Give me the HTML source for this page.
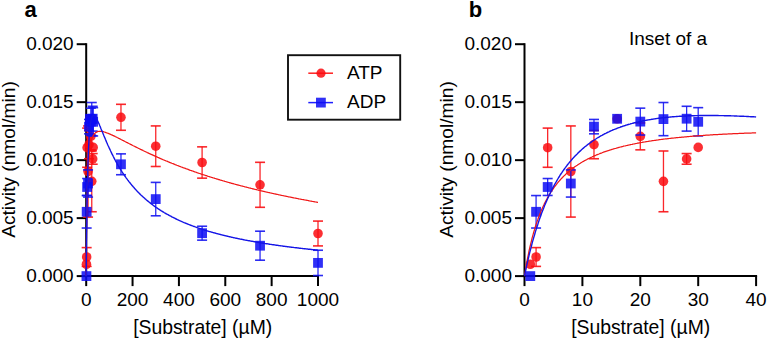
<!DOCTYPE html>
<html><head><meta charset="utf-8"><style>
html,body{margin:0;padding:0;background:#fff;}
svg{display:block;font-family:"Liberation Sans",sans-serif;}
</style></head><body>
<svg width="767" height="340" viewBox="0 0 767 340">
<rect width="767" height="340" fill="#fff"/>
<line x1="86.20" y1="43.20" x2="86.20" y2="277.10" stroke="#000" stroke-width="2"/>
<line x1="85.20" y1="276.10" x2="319.00" y2="276.10" stroke="#000" stroke-width="2"/>
<line x1="76.70" y1="276.10" x2="86.20" y2="276.10" stroke="#000" stroke-width="2"/>
<text x="73.70" y="282.10" font-size="19" text-anchor="end" font-weight="normal" >0.000</text>
<line x1="76.70" y1="218.12" x2="86.20" y2="218.12" stroke="#000" stroke-width="2"/>
<text x="73.70" y="224.12" font-size="19" text-anchor="end" font-weight="normal" >0.005</text>
<line x1="76.70" y1="160.15" x2="86.20" y2="160.15" stroke="#000" stroke-width="2"/>
<text x="73.70" y="166.15" font-size="19" text-anchor="end" font-weight="normal" >0.010</text>
<line x1="76.70" y1="102.17" x2="86.20" y2="102.17" stroke="#000" stroke-width="2"/>
<text x="73.70" y="108.17" font-size="19" text-anchor="end" font-weight="normal" >0.015</text>
<line x1="76.70" y1="44.20" x2="86.20" y2="44.20" stroke="#000" stroke-width="2"/>
<text x="73.70" y="50.20" font-size="19" text-anchor="end" font-weight="normal" >0.020</text>
<line x1="86.20" y1="276.10" x2="86.20" y2="286.10" stroke="#000" stroke-width="2"/>
<text x="86.20" y="306.00" font-size="19" text-anchor="middle" font-weight="normal" >0</text>
<line x1="132.56" y1="276.10" x2="132.56" y2="286.10" stroke="#000" stroke-width="2"/>
<text x="132.56" y="306.00" font-size="19" text-anchor="middle" font-weight="normal" >200</text>
<line x1="178.92" y1="276.10" x2="178.92" y2="286.10" stroke="#000" stroke-width="2"/>
<text x="178.92" y="306.00" font-size="19" text-anchor="middle" font-weight="normal" >400</text>
<line x1="225.28" y1="276.10" x2="225.28" y2="286.10" stroke="#000" stroke-width="2"/>
<text x="225.28" y="306.00" font-size="19" text-anchor="middle" font-weight="normal" >600</text>
<line x1="271.64" y1="276.10" x2="271.64" y2="286.10" stroke="#000" stroke-width="2"/>
<text x="271.64" y="306.00" font-size="19" text-anchor="middle" font-weight="normal" >800</text>
<line x1="318.00" y1="276.10" x2="318.00" y2="286.10" stroke="#000" stroke-width="2"/>
<text x="318.00" y="306.00" font-size="19" text-anchor="middle" font-weight="normal" >1000</text>
<line x1="86.66" y1="247.61" x2="86.66" y2="266.39" stroke="rgba(250,15,20,0.9)" stroke-width="1.3"/>
<line x1="81.66" y1="247.61" x2="91.66" y2="247.61" stroke="rgba(250,15,20,0.9)" stroke-width="1.6"/>
<line x1="81.66" y1="266.39" x2="91.66" y2="266.39" stroke="rgba(250,15,20,0.9)" stroke-width="1.6"/>
<line x1="87.13" y1="128.10" x2="87.13" y2="167.29" stroke="rgba(250,15,20,0.9)" stroke-width="1.3"/>
<line x1="82.13" y1="128.10" x2="92.13" y2="128.10" stroke="rgba(250,15,20,0.9)" stroke-width="1.6"/>
<line x1="82.13" y1="167.29" x2="92.13" y2="167.29" stroke="rgba(250,15,20,0.9)" stroke-width="1.6"/>
<line x1="88.05" y1="125.94" x2="88.05" y2="217.08" stroke="rgba(250,15,20,0.9)" stroke-width="1.3"/>
<line x1="83.05" y1="125.94" x2="93.05" y2="125.94" stroke="rgba(250,15,20,0.9)" stroke-width="1.6"/>
<line x1="83.05" y1="217.08" x2="93.05" y2="217.08" stroke="rgba(250,15,20,0.9)" stroke-width="1.6"/>
<line x1="88.98" y1="130.46" x2="88.98" y2="158.75" stroke="rgba(250,15,20,0.9)" stroke-width="1.3"/>
<line x1="83.98" y1="130.46" x2="93.98" y2="130.46" stroke="rgba(250,15,20,0.9)" stroke-width="1.6"/>
<line x1="83.98" y1="158.75" x2="93.98" y2="158.75" stroke="rgba(250,15,20,0.9)" stroke-width="1.6"/>
<line x1="90.84" y1="122.94" x2="90.84" y2="149.84" stroke="rgba(250,15,20,0.9)" stroke-width="1.3"/>
<line x1="85.84" y1="122.94" x2="95.84" y2="122.94" stroke="rgba(250,15,20,0.9)" stroke-width="1.6"/>
<line x1="85.84" y1="149.84" x2="95.84" y2="149.84" stroke="rgba(250,15,20,0.9)" stroke-width="1.6"/>
<line x1="91.76" y1="150.99" x2="91.76" y2="211.75" stroke="rgba(250,15,20,0.9)" stroke-width="1.3"/>
<line x1="86.76" y1="150.99" x2="96.76" y2="150.99" stroke="rgba(250,15,20,0.9)" stroke-width="1.6"/>
<line x1="86.76" y1="211.75" x2="96.76" y2="211.75" stroke="rgba(250,15,20,0.9)" stroke-width="1.6"/>
<line x1="92.69" y1="153.56" x2="92.69" y2="164.23" stroke="rgba(250,15,20,0.9)" stroke-width="1.3"/>
<line x1="87.69" y1="153.56" x2="97.69" y2="153.56" stroke="rgba(250,15,20,0.9)" stroke-width="1.6"/>
<line x1="87.69" y1="164.23" x2="97.69" y2="164.23" stroke="rgba(250,15,20,0.9)" stroke-width="1.6"/>
<line x1="120.97" y1="104.31" x2="120.97" y2="130.28" stroke="rgba(250,15,20,0.9)" stroke-width="1.3"/>
<line x1="115.97" y1="104.31" x2="125.97" y2="104.31" stroke="rgba(250,15,20,0.9)" stroke-width="1.6"/>
<line x1="115.97" y1="130.28" x2="125.97" y2="130.28" stroke="rgba(250,15,20,0.9)" stroke-width="1.6"/>
<line x1="155.74" y1="125.91" x2="155.74" y2="166.49" stroke="rgba(250,15,20,0.9)" stroke-width="1.3"/>
<line x1="150.74" y1="125.91" x2="160.74" y2="125.91" stroke="rgba(250,15,20,0.9)" stroke-width="1.6"/>
<line x1="150.74" y1="166.49" x2="160.74" y2="166.49" stroke="rgba(250,15,20,0.9)" stroke-width="1.6"/>
<line x1="202.10" y1="146.85" x2="202.10" y2="178.16" stroke="rgba(250,15,20,0.9)" stroke-width="1.3"/>
<line x1="197.10" y1="146.85" x2="207.10" y2="146.85" stroke="rgba(250,15,20,0.9)" stroke-width="1.6"/>
<line x1="197.10" y1="178.16" x2="207.10" y2="178.16" stroke="rgba(250,15,20,0.9)" stroke-width="1.6"/>
<line x1="260.05" y1="162.31" x2="260.05" y2="207.30" stroke="rgba(250,15,20,0.9)" stroke-width="1.3"/>
<line x1="255.05" y1="162.31" x2="265.05" y2="162.31" stroke="rgba(250,15,20,0.9)" stroke-width="1.6"/>
<line x1="255.05" y1="207.30" x2="265.05" y2="207.30" stroke="rgba(250,15,20,0.9)" stroke-width="1.6"/>
<line x1="318.00" y1="221.09" x2="318.00" y2="245.91" stroke="rgba(250,15,20,0.9)" stroke-width="1.3"/>
<line x1="313.00" y1="221.09" x2="323.00" y2="221.09" stroke="rgba(250,15,20,0.9)" stroke-width="1.6"/>
<line x1="313.00" y1="245.91" x2="323.00" y2="245.91" stroke="rgba(250,15,20,0.9)" stroke-width="1.6"/>
<circle cx="86.43" cy="264.25" r="4.8" fill="rgba(250,10,15,0.85)"/>
<circle cx="86.66" cy="257.00" r="4.8" fill="rgba(250,10,15,0.85)"/>
<circle cx="87.13" cy="147.70" r="4.8" fill="rgba(250,10,15,0.85)"/>
<circle cx="88.05" cy="171.51" r="4.8" fill="rgba(250,10,15,0.85)"/>
<circle cx="88.98" cy="144.60" r="4.8" fill="rgba(250,10,15,0.85)"/>
<circle cx="89.91" cy="118.79" r="4.8" fill="rgba(250,10,15,0.85)"/>
<circle cx="90.84" cy="136.39" r="4.8" fill="rgba(250,10,15,0.85)"/>
<circle cx="91.76" cy="181.37" r="4.8" fill="rgba(250,10,15,0.85)"/>
<circle cx="92.69" cy="158.90" r="4.8" fill="rgba(250,10,15,0.85)"/>
<circle cx="93.15" cy="147.40" r="4.8" fill="rgba(250,10,15,0.85)"/>
<circle cx="120.97" cy="117.29" r="4.8" fill="rgba(250,10,15,0.85)"/>
<circle cx="155.74" cy="146.20" r="4.8" fill="rgba(250,10,15,0.85)"/>
<circle cx="202.10" cy="162.50" r="4.8" fill="rgba(250,10,15,0.85)"/>
<circle cx="260.05" cy="184.80" r="4.8" fill="rgba(250,10,15,0.85)"/>
<circle cx="318.00" cy="233.50" r="4.8" fill="rgba(250,10,15,0.85)"/>
<line x1="86.66" y1="195.56" x2="86.66" y2="228.03" stroke="rgba(15,15,240,0.88)" stroke-width="1.3"/>
<line x1="81.66" y1="195.56" x2="91.66" y2="195.56" stroke="rgba(15,15,240,0.88)" stroke-width="1.6"/>
<line x1="81.66" y1="228.03" x2="91.66" y2="228.03" stroke="rgba(15,15,240,0.88)" stroke-width="1.6"/>
<line x1="87.13" y1="178.53" x2="87.13" y2="195.46" stroke="rgba(15,15,240,0.88)" stroke-width="1.3"/>
<line x1="82.13" y1="178.53" x2="92.13" y2="178.53" stroke="rgba(15,15,240,0.88)" stroke-width="1.6"/>
<line x1="82.13" y1="195.46" x2="92.13" y2="195.46" stroke="rgba(15,15,240,0.88)" stroke-width="1.6"/>
<line x1="88.05" y1="169.94" x2="88.05" y2="197.07" stroke="rgba(15,15,240,0.88)" stroke-width="1.3"/>
<line x1="83.05" y1="169.94" x2="93.05" y2="169.94" stroke="rgba(15,15,240,0.88)" stroke-width="1.6"/>
<line x1="83.05" y1="197.07" x2="93.05" y2="197.07" stroke="rgba(15,15,240,0.88)" stroke-width="1.6"/>
<line x1="88.98" y1="119.45" x2="88.98" y2="133.83" stroke="rgba(15,15,240,0.88)" stroke-width="1.3"/>
<line x1="83.98" y1="119.45" x2="93.98" y2="119.45" stroke="rgba(15,15,240,0.88)" stroke-width="1.6"/>
<line x1="83.98" y1="133.83" x2="93.98" y2="133.83" stroke="rgba(15,15,240,0.88)" stroke-width="1.6"/>
<line x1="90.84" y1="108.15" x2="90.84" y2="135.05" stroke="rgba(15,15,240,0.88)" stroke-width="1.3"/>
<line x1="85.84" y1="108.15" x2="95.84" y2="108.15" stroke="rgba(15,15,240,0.88)" stroke-width="1.6"/>
<line x1="85.84" y1="135.05" x2="95.84" y2="135.05" stroke="rgba(15,15,240,0.88)" stroke-width="1.6"/>
<line x1="91.76" y1="102.52" x2="91.76" y2="135.68" stroke="rgba(15,15,240,0.88)" stroke-width="1.3"/>
<line x1="86.76" y1="102.52" x2="96.76" y2="102.52" stroke="rgba(15,15,240,0.88)" stroke-width="1.6"/>
<line x1="86.76" y1="135.68" x2="96.76" y2="135.68" stroke="rgba(15,15,240,0.88)" stroke-width="1.6"/>
<line x1="92.69" y1="106.29" x2="92.69" y2="131.10" stroke="rgba(15,15,240,0.88)" stroke-width="1.3"/>
<line x1="87.69" y1="106.29" x2="97.69" y2="106.29" stroke="rgba(15,15,240,0.88)" stroke-width="1.6"/>
<line x1="87.69" y1="131.10" x2="97.69" y2="131.10" stroke="rgba(15,15,240,0.88)" stroke-width="1.6"/>
<line x1="93.15" y1="107.65" x2="93.15" y2="135.94" stroke="rgba(15,15,240,0.88)" stroke-width="1.3"/>
<line x1="88.15" y1="107.65" x2="98.15" y2="107.65" stroke="rgba(15,15,240,0.88)" stroke-width="1.6"/>
<line x1="88.15" y1="135.94" x2="98.15" y2="135.94" stroke="rgba(15,15,240,0.88)" stroke-width="1.6"/>
<line x1="120.97" y1="153.87" x2="120.97" y2="174.74" stroke="rgba(15,15,240,0.88)" stroke-width="1.3"/>
<line x1="115.97" y1="153.87" x2="125.97" y2="153.87" stroke="rgba(15,15,240,0.88)" stroke-width="1.6"/>
<line x1="115.97" y1="174.74" x2="125.97" y2="174.74" stroke="rgba(15,15,240,0.88)" stroke-width="1.6"/>
<line x1="155.74" y1="182.40" x2="155.74" y2="215.79" stroke="rgba(15,15,240,0.88)" stroke-width="1.3"/>
<line x1="150.74" y1="182.40" x2="160.74" y2="182.40" stroke="rgba(15,15,240,0.88)" stroke-width="1.6"/>
<line x1="150.74" y1="215.79" x2="160.74" y2="215.79" stroke="rgba(15,15,240,0.88)" stroke-width="1.6"/>
<line x1="202.10" y1="226.24" x2="202.10" y2="240.16" stroke="rgba(15,15,240,0.88)" stroke-width="1.3"/>
<line x1="197.10" y1="226.24" x2="207.10" y2="226.24" stroke="rgba(15,15,240,0.88)" stroke-width="1.6"/>
<line x1="197.10" y1="240.16" x2="207.10" y2="240.16" stroke="rgba(15,15,240,0.88)" stroke-width="1.6"/>
<line x1="260.05" y1="231.20" x2="260.05" y2="260.19" stroke="rgba(15,15,240,0.88)" stroke-width="1.3"/>
<line x1="255.05" y1="231.20" x2="265.05" y2="231.20" stroke="rgba(15,15,240,0.88)" stroke-width="1.6"/>
<line x1="255.05" y1="260.19" x2="265.05" y2="260.19" stroke="rgba(15,15,240,0.88)" stroke-width="1.6"/>
<line x1="318.00" y1="250.24" x2="318.00" y2="275.52" stroke="rgba(15,15,240,0.88)" stroke-width="1.3"/>
<line x1="313.00" y1="250.24" x2="323.00" y2="250.24" stroke="rgba(15,15,240,0.88)" stroke-width="1.6"/>
<line x1="313.00" y1="275.52" x2="323.00" y2="275.52" stroke="rgba(15,15,240,0.88)" stroke-width="1.6"/>
<rect x="81.53" y="271.20" width="9.8" height="9.8" fill="rgba(12,12,245,0.85)"/>
<rect x="81.76" y="206.89" width="9.8" height="9.8" fill="rgba(12,12,245,0.85)"/>
<rect x="82.23" y="182.09" width="9.8" height="9.8" fill="rgba(12,12,245,0.85)"/>
<rect x="83.15" y="178.60" width="9.8" height="9.8" fill="rgba(12,12,245,0.85)"/>
<rect x="84.08" y="121.74" width="9.8" height="9.8" fill="rgba(12,12,245,0.85)"/>
<rect x="85.01" y="113.89" width="9.8" height="9.8" fill="rgba(12,12,245,0.85)"/>
<rect x="85.94" y="116.70" width="9.8" height="9.8" fill="rgba(12,12,245,0.85)"/>
<rect x="86.86" y="114.20" width="9.8" height="9.8" fill="rgba(12,12,245,0.85)"/>
<rect x="87.79" y="113.80" width="9.8" height="9.8" fill="rgba(12,12,245,0.85)"/>
<rect x="88.25" y="116.89" width="9.8" height="9.8" fill="rgba(12,12,245,0.85)"/>
<rect x="116.07" y="159.40" width="9.8" height="9.8" fill="rgba(12,12,245,0.85)"/>
<rect x="150.84" y="194.20" width="9.8" height="9.8" fill="rgba(12,12,245,0.85)"/>
<rect x="197.20" y="228.30" width="9.8" height="9.8" fill="rgba(12,12,245,0.85)"/>
<rect x="255.15" y="240.80" width="9.8" height="9.8" fill="rgba(12,12,245,0.85)"/>
<rect x="313.10" y="257.98" width="9.8" height="9.8" fill="rgba(12,12,245,0.85)"/>
<polyline points="86.2,276.1 86.2,268.9 86.3,262.3 86.3,256.2 86.4,250.6 86.4,245.5 86.5,240.6 86.5,236.1 86.6,232.0 86.6,228.0 86.7,224.4 86.7,220.9 86.8,217.7 86.8,214.6 86.9,211.7 86.9,209.0 86.9,206.4 87.0,204.0 87.0,201.6 87.1,199.4 87.1,197.3 87.2,195.3 87.2,193.4 87.3,191.6 87.3,189.8 87.4,188.1 87.4,186.5 87.5,185.0 87.5,183.5 87.6,182.1 87.6,180.8 87.6,179.5 87.7,178.2 87.7,177.0 87.8,175.8 87.8,174.7 87.9,173.6 87.9,172.6 88.0,171.6 88.0,170.6 88.1,169.7 88.1,168.8 88.2,167.9 88.2,167.0 88.3,166.2 88.3,165.4 88.3,164.6 88.4,163.9 88.4,163.2 88.5,162.5 88.5,161.8 88.6,161.1 88.6,160.5 88.7,159.8 88.7,159.2 88.8,158.6 88.8,158.0 88.9,157.5 88.9,156.9 88.9,156.4 89.0,155.9 89.0,155.4 89.1,154.9 89.1,154.4 89.2,153.9 89.2,153.5 89.3,153.0 89.3,152.6 89.4,152.2 89.4,151.8 89.5,151.4 89.5,151.0 89.6,150.6 89.6,150.2 89.6,149.8 89.7,149.5 89.7,149.1 89.8,148.8 89.8,148.4 89.9,148.1 89.9,147.8 90.0,147.5 90.0,147.2 90.1,146.9 90.1,146.6 90.2,146.3 90.2,146.0 90.3,145.7 90.3,145.5 90.3,145.2 90.4,144.9 90.4,144.7 90.5,144.4 90.5,144.2 90.6,144.0 90.6,143.7 90.7,143.5 90.7,143.3 90.8,143.0 90.8,142.8 90.9,142.6 90.9,142.4 91.0,142.2 91.0,142.0 91.0,141.8 91.1,141.6 91.1,141.4 91.2,141.2 91.2,141.1 91.3,140.9 91.3,140.7 91.4,140.5 91.4,140.4 91.5,140.2 91.5,140.0 91.6,139.9 91.6,139.7 91.7,139.6 91.7,139.4 91.7,139.3 91.8,139.1 91.8,139.0 91.9,138.8 91.9,138.7 92.0,138.5 92.0,138.4 92.1,138.3 92.1,138.2 92.2,138.0 92.2,137.9 92.3,137.8 92.3,137.7 92.4,137.5 92.4,137.4 92.4,137.3 92.5,137.2 92.5,137.1 92.6,137.0 92.6,136.9 92.7,136.8 92.7,136.7 92.8,136.6 92.8,136.5 92.9,136.4 92.9,136.3 93.0,136.2 93.0,136.1 93.0,136.0 93.1,135.9 93.1,135.8 93.2,135.7 93.2,135.6 93.3,135.5 93.3,135.5 93.4,135.4 93.4,135.3 93.5,135.2 93.5,135.1 93.6,135.1 93.6,135.0 93.7,134.9 93.7,134.8 93.7,134.8 93.8,134.7 93.8,134.6 93.9,134.6 93.9,134.5 94.0,134.4 94.0,134.4 94.1,134.3 94.1,134.2 94.2,134.2 94.2,134.1 94.3,134.1 94.3,134.0 94.4,133.9 94.4,133.9 94.4,133.8 94.5,133.8 94.5,133.7 94.6,133.7 94.6,133.6 94.7,133.6 94.7,133.5 94.8,133.5 94.8,133.4 94.9,133.4 94.9,133.3 95.0,133.3 95.0,133.2 95.1,133.2 95.1,133.1 95.1,133.1 95.2,133.1 95.2,133.0 95.3,133.0 95.3,132.9 95.4,132.9 95.4,132.9 95.5,132.8 95.5,132.8 96.0,132.4 96.6,132.1 97.1,131.8 97.7,131.6 98.3,131.5 98.8,131.4 99.4,131.3 99.9,131.3 100.5,131.3 101.0,131.4 101.6,131.4 102.2,131.5 102.7,131.6 103.3,131.7 103.8,131.9 104.4,132.0 105.0,132.2 105.5,132.4 106.1,132.6 106.6,132.8 107.2,133.0 107.7,133.2 108.3,133.4 108.9,133.6 109.4,133.9 110.0,134.1 110.5,134.3 111.1,134.6 111.6,134.8 112.2,135.1 112.8,135.4 113.3,135.6 113.9,135.9 114.4,136.2 115.0,136.4 115.5,136.7 116.1,137.0 116.7,137.2 117.2,137.5 117.8,137.8 118.3,138.1 118.9,138.4 119.5,138.6 120.0,138.9 120.6,139.2 121.1,139.5 121.7,139.8 122.2,140.1 122.8,140.4 123.4,140.6 123.9,140.9 124.5,141.2 125.0,141.5 125.6,141.8 126.1,142.1 126.7,142.4 127.3,142.6 127.8,142.9 128.4,143.2 128.9,143.5 129.5,143.8 130.1,144.1 130.6,144.4 131.2,144.6 131.7,144.9 132.3,145.2 132.8,145.5 133.4,145.8 134.0,146.0 134.5,146.3 135.1,146.6 135.6,146.9 136.2,147.2 136.7,147.4 137.3,147.7 137.9,148.0 138.4,148.3 139.0,148.5 139.5,148.8 140.1,149.1 140.6,149.4 141.2,149.6 141.8,149.9 142.3,150.2 142.9,150.4 143.4,150.7 144.0,151.0 144.6,151.3 145.1,151.5 145.7,151.8 146.2,152.0 146.8,152.3 147.3,152.6 147.9,152.8 148.5,153.1 149.0,153.4 149.6,153.6 150.1,153.9 150.7,154.1 151.2,154.4 151.8,154.6 152.4,154.9 152.9,155.2 153.5,155.4 154.0,155.7 154.6,155.9 155.1,156.2 155.7,156.4 156.3,156.7 156.8,156.9 157.4,157.2 157.9,157.4 158.5,157.6 159.1,157.9 159.6,158.1 160.2,158.4 160.7,158.6 161.3,158.9 161.8,159.1 162.4,159.3 163.0,159.6 163.5,159.8 164.1,160.0 164.6,160.3 165.2,160.5 165.7,160.8 166.3,161.0 166.9,161.2 167.4,161.4 168.0,161.7 168.5,161.9 169.1,162.1 169.6,162.4 170.2,162.6 170.8,162.8 171.3,163.0 171.9,163.3 172.4,163.5 173.0,163.7 173.6,163.9 174.1,164.2 174.7,164.4 175.2,164.6 175.8,164.8 176.3,165.0 176.9,165.3 177.5,165.5 178.0,165.7 178.6,165.9 179.1,166.1 179.7,166.3 180.2,166.5 180.8,166.8 181.4,167.0 181.9,167.2 182.5,167.4 183.0,167.6 183.6,167.8 184.1,168.0 184.7,168.2 185.3,168.4 185.8,168.6 186.4,168.8 186.9,169.0 187.5,169.2 188.1,169.4 188.6,169.7 189.2,169.9 189.7,170.1 190.3,170.3 190.8,170.5 191.4,170.6 192.0,170.8 192.5,171.0 193.1,171.2 193.6,171.4 194.2,171.6 194.7,171.8 195.3,172.0 195.9,172.2 196.4,172.4 197.0,172.6 197.5,172.8 198.1,173.0 198.6,173.2 199.2,173.4 199.8,173.5 200.3,173.7 200.9,173.9 201.4,174.1 202.0,174.3 202.6,174.5 203.1,174.7 203.7,174.8 204.2,175.0 204.8,175.2 205.3,175.4 205.9,175.6 206.5,175.7 207.0,175.9 207.6,176.1 208.1,176.3 208.7,176.5 209.2,176.6 209.8,176.8 210.4,177.0 210.9,177.2 211.5,177.3 212.0,177.5 212.6,177.7 213.1,177.9 213.7,178.0 214.3,178.2 214.8,178.4 215.4,178.5 215.9,178.7 216.5,178.9 217.1,179.1 217.6,179.2 218.2,179.4 218.7,179.6 219.3,179.7 219.8,179.9 220.4,180.1 221.0,180.2 221.5,180.4 222.1,180.5 222.6,180.7 223.2,180.9 223.7,181.0 224.3,181.2 224.9,181.4 225.4,181.5 226.0,181.7 226.5,181.8 227.1,182.0 227.7,182.2 228.2,182.3 228.8,182.5 229.3,182.6 229.9,182.8 230.4,182.9 231.0,183.1 231.6,183.3 232.1,183.4 232.7,183.6 233.2,183.7 233.8,183.9 234.3,184.0 234.9,184.2 235.5,184.3 236.0,184.5 236.6,184.6 237.1,184.8 237.7,184.9 238.2,185.1 238.8,185.2 239.4,185.4 239.9,185.5 240.5,185.7 241.0,185.8 241.6,186.0 242.2,186.1 242.7,186.2 243.3,186.4 243.8,186.5 244.4,186.7 244.9,186.8 245.5,187.0 246.1,187.1 246.6,187.2 247.2,187.4 247.7,187.5 248.3,187.7 248.8,187.8 249.4,188.0 250.0,188.1 250.5,188.2 251.1,188.4 251.6,188.5 252.2,188.6 252.7,188.8 253.3,188.9 253.9,189.1 254.4,189.2 255.0,189.3 255.5,189.5 256.1,189.6 256.7,189.7 257.2,189.9 257.8,190.0 258.3,190.1 258.9,190.3 259.4,190.4 260.0,190.5 260.6,190.7 261.1,190.8 261.7,190.9 262.2,191.1 262.8,191.2 263.3,191.3 263.9,191.4 264.5,191.6 265.0,191.7 265.6,191.8 266.1,192.0 266.7,192.1 267.2,192.2 267.8,192.3 268.4,192.5 268.9,192.6 269.5,192.7 270.0,192.8 270.6,193.0 271.2,193.1 271.7,193.2 272.3,193.3 272.8,193.5 273.4,193.6 273.9,193.7 274.5,193.8 275.1,193.9 275.6,194.1 276.2,194.2 276.7,194.3 277.3,194.4 277.8,194.5 278.4,194.7 279.0,194.8 279.5,194.9 280.1,195.0 280.6,195.1 281.2,195.3 281.7,195.4 282.3,195.5 282.9,195.6 283.4,195.7 284.0,195.8 284.5,196.0 285.1,196.1 285.7,196.2 286.2,196.3 286.8,196.4 287.3,196.5 287.9,196.7 288.4,196.8 289.0,196.9 289.6,197.0 290.1,197.1 290.7,197.2 291.2,197.3 291.8,197.4 292.3,197.6 292.9,197.7 293.5,197.8 294.0,197.9 294.6,198.0 295.1,198.1 295.7,198.2 296.2,198.3 296.8,198.4 297.4,198.5 297.9,198.6 298.5,198.8 299.0,198.9 299.6,199.0 300.2,199.1 300.7,199.2 301.3,199.3 301.8,199.4 302.4,199.5 302.9,199.6 303.5,199.7 304.1,199.8 304.6,199.9 305.2,200.0 305.7,200.1 306.3,200.2 306.8,200.3 307.4,200.4 308.0,200.5 308.5,200.6 309.1,200.8 309.6,200.9 310.2,201.0 310.7,201.1 311.3,201.2 311.9,201.3 312.4,201.4 313.0,201.5 313.5,201.6 314.1,201.7 314.7,201.8 315.2,201.9 315.8,202.0 316.3,202.1 316.9,202.2 317.4,202.3 318.0,202.4" fill="none" stroke="#f01818" stroke-width="1.25" stroke-linejoin="round"/>
<polyline points="86.2,276.1 86.2,270.5 86.3,265.1 86.3,260.0 86.4,255.0 86.4,250.3 86.5,245.8 86.5,241.5 86.6,237.3 86.6,233.3 86.7,229.5 86.7,225.8 86.8,222.3 86.8,218.9 86.9,215.6 86.9,212.4 86.9,209.4 87.0,206.5 87.0,203.6 87.1,200.9 87.1,198.3 87.2,195.7 87.2,193.3 87.3,190.9 87.3,188.6 87.4,186.4 87.4,184.3 87.5,182.2 87.5,180.2 87.6,178.2 87.6,176.4 87.6,174.5 87.7,172.8 87.7,171.1 87.8,169.4 87.8,167.8 87.9,166.3 87.9,164.8 88.0,163.3 88.0,161.9 88.1,160.5 88.1,159.1 88.2,157.9 88.2,156.6 88.3,155.4 88.3,154.2 88.3,153.0 88.4,151.9 88.4,150.8 88.5,149.8 88.5,148.7 88.6,147.7 88.6,146.8 88.7,145.8 88.7,144.9 88.8,144.0 88.8,143.1 88.9,142.3 88.9,141.5 88.9,140.7 89.0,139.9 89.0,139.1 89.1,138.4 89.1,137.7 89.2,137.0 89.2,136.3 89.3,135.6 89.3,135.0 89.4,134.4 89.4,133.8 89.5,133.2 89.5,132.6 89.6,132.1 89.6,131.5 89.6,131.0 89.7,130.5 89.7,130.0 89.8,129.5 89.8,129.0 89.9,128.5 89.9,128.1 90.0,127.7 90.0,127.2 90.1,126.8 90.1,126.4 90.2,126.0 90.2,125.7 90.3,125.3 90.3,124.9 90.3,124.6 90.4,124.2 90.4,123.9 90.5,123.6 90.5,123.3 90.6,123.0 90.6,122.7 90.7,122.4 90.7,122.1 90.8,121.8 90.8,121.6 90.9,121.3 90.9,121.1 91.0,120.8 91.0,120.6 91.0,120.4 91.1,120.2 91.1,120.0 91.2,119.8 91.2,119.6 91.3,119.4 91.3,119.2 91.4,119.0 91.4,118.8 91.5,118.7 91.5,118.5 91.6,118.3 91.6,118.2 91.7,118.0 91.7,117.9 91.7,117.8 91.8,117.6 91.8,117.5 91.9,117.4 91.9,117.3 92.0,117.2 92.0,117.0 92.1,116.9 92.1,116.8 92.2,116.7 92.2,116.7 92.3,116.6 92.3,116.5 92.4,116.4 92.4,116.3 92.4,116.3 92.5,116.2 92.5,116.1 92.6,116.1 92.6,116.0 92.7,116.0 92.7,115.9 92.8,115.9 92.8,115.8 92.9,115.8 92.9,115.7 93.0,115.7 93.0,115.7 93.0,115.6 93.1,115.6 93.1,115.6 93.2,115.6 93.2,115.5 93.3,115.5 93.3,115.5 93.4,115.5 93.4,115.5 93.5,115.5 93.5,115.5 93.6,115.5 93.6,115.5 93.7,115.5 93.7,115.5 93.7,115.5 93.8,115.5 93.8,115.5 93.9,115.5 93.9,115.5 94.0,115.6 94.0,115.6 94.1,115.6 94.1,115.6 94.2,115.6 94.2,115.7 94.3,115.7 94.3,115.7 94.4,115.8 94.4,115.8 94.4,115.8 94.5,115.9 94.5,115.9 94.6,115.9 94.6,116.0 94.7,116.0 94.7,116.1 94.8,116.1 94.8,116.2 94.9,116.2 94.9,116.3 95.0,116.3 95.0,116.4 95.1,116.4 95.1,116.5 95.1,116.5 95.2,116.6 95.2,116.6 95.3,116.7 95.3,116.8 95.4,116.8 95.4,116.9 95.5,117.0 95.5,117.0 96.0,117.8 96.6,118.8 97.1,119.8 97.7,121.0 98.3,122.2 98.8,123.4 99.4,124.7 99.9,126.0 100.5,127.4 101.0,128.7 101.6,130.1 102.2,131.4 102.7,132.8 103.3,134.2 103.8,135.5 104.4,136.9 105.0,138.2 105.5,139.5 106.1,140.9 106.6,142.2 107.2,143.4 107.7,144.7 108.3,146.0 108.9,147.2 109.4,148.4 110.0,149.6 110.5,150.8 111.1,152.0 111.6,153.2 112.2,154.3 112.8,155.4 113.3,156.5 113.9,157.6 114.4,158.7 115.0,159.8 115.5,160.8 116.1,161.8 116.7,162.8 117.2,163.8 117.8,164.8 118.3,165.8 118.9,166.7 119.5,167.6 120.0,168.6 120.6,169.5 121.1,170.4 121.7,171.2 122.2,172.1 122.8,173.0 123.4,173.8 123.9,174.6 124.5,175.4 125.0,176.3 125.6,177.0 126.1,177.8 126.7,178.6 127.3,179.3 127.8,180.1 128.4,180.8 128.9,181.6 129.5,182.3 130.1,183.0 130.6,183.7 131.2,184.3 131.7,185.0 132.3,185.7 132.8,186.3 133.4,187.0 134.0,187.6 134.5,188.3 135.1,188.9 135.6,189.5 136.2,190.1 136.7,190.7 137.3,191.3 137.9,191.9 138.4,192.4 139.0,193.0 139.5,193.6 140.1,194.1 140.6,194.7 141.2,195.2 141.8,195.7 142.3,196.2 142.9,196.8 143.4,197.3 144.0,197.8 144.6,198.3 145.1,198.8 145.7,199.2 146.2,199.7 146.8,200.2 147.3,200.7 147.9,201.1 148.5,201.6 149.0,202.0 149.6,202.5 150.1,202.9 150.7,203.4 151.2,203.8 151.8,204.2 152.4,204.6 152.9,205.1 153.5,205.5 154.0,205.9 154.6,206.3 155.1,206.7 155.7,207.1 156.3,207.5 156.8,207.8 157.4,208.2 157.9,208.6 158.5,209.0 159.1,209.3 159.6,209.7 160.2,210.1 160.7,210.4 161.3,210.8 161.8,211.1 162.4,211.5 163.0,211.8 163.5,212.1 164.1,212.5 164.6,212.8 165.2,213.1 165.7,213.5 166.3,213.8 166.9,214.1 167.4,214.4 168.0,214.7 168.5,215.0 169.1,215.3 169.6,215.6 170.2,215.9 170.8,216.2 171.3,216.5 171.9,216.8 172.4,217.1 173.0,217.4 173.6,217.7 174.1,218.0 174.7,218.2 175.2,218.5 175.8,218.8 176.3,219.0 176.9,219.3 177.5,219.6 178.0,219.8 178.6,220.1 179.1,220.4 179.7,220.6 180.2,220.9 180.8,221.1 181.4,221.4 181.9,221.6 182.5,221.9 183.0,222.1 183.6,222.3 184.1,222.6 184.7,222.8 185.3,223.0 185.8,223.3 186.4,223.5 186.9,223.7 187.5,224.0 188.1,224.2 188.6,224.4 189.2,224.6 189.7,224.8 190.3,225.0 190.8,225.3 191.4,225.5 192.0,225.7 192.5,225.9 193.1,226.1 193.6,226.3 194.2,226.5 194.7,226.7 195.3,226.9 195.9,227.1 196.4,227.3 197.0,227.5 197.5,227.7 198.1,227.9 198.6,228.1 199.2,228.3 199.8,228.5 200.3,228.6 200.9,228.8 201.4,229.0 202.0,229.2 202.6,229.4 203.1,229.6 203.7,229.7 204.2,229.9 204.8,230.1 205.3,230.3 205.9,230.4 206.5,230.6 207.0,230.8 207.6,231.0 208.1,231.1 208.7,231.3 209.2,231.5 209.8,231.6 210.4,231.8 210.9,231.9 211.5,232.1 212.0,232.3 212.6,232.4 213.1,232.6 213.7,232.7 214.3,232.9 214.8,233.0 215.4,233.2 215.9,233.3 216.5,233.5 217.1,233.6 217.6,233.8 218.2,233.9 218.7,234.1 219.3,234.2 219.8,234.4 220.4,234.5 221.0,234.7 221.5,234.8 222.1,234.9 222.6,235.1 223.2,235.2 223.7,235.4 224.3,235.5 224.9,235.6 225.4,235.8 226.0,235.9 226.5,236.0 227.1,236.2 227.7,236.3 228.2,236.4 228.8,236.6 229.3,236.7 229.9,236.8 230.4,236.9 231.0,237.1 231.6,237.2 232.1,237.3 232.7,237.4 233.2,237.6 233.8,237.7 234.3,237.8 234.9,237.9 235.5,238.1 236.0,238.2 236.6,238.3 237.1,238.4 237.7,238.5 238.2,238.6 238.8,238.8 239.4,238.9 239.9,239.0 240.5,239.1 241.0,239.2 241.6,239.3 242.2,239.4 242.7,239.5 243.3,239.7 243.8,239.8 244.4,239.9 244.9,240.0 245.5,240.1 246.1,240.2 246.6,240.3 247.2,240.4 247.7,240.5 248.3,240.6 248.8,240.7 249.4,240.8 250.0,240.9 250.5,241.0 251.1,241.1 251.6,241.2 252.2,241.3 252.7,241.4 253.3,241.5 253.9,241.6 254.4,241.7 255.0,241.8 255.5,241.9 256.1,242.0 256.7,242.1 257.2,242.2 257.8,242.3 258.3,242.4 258.9,242.5 259.4,242.6 260.0,242.7 260.6,242.8 261.1,242.9 261.7,243.0 262.2,243.0 262.8,243.1 263.3,243.2 263.9,243.3 264.5,243.4 265.0,243.5 265.6,243.6 266.1,243.7 266.7,243.8 267.2,243.8 267.8,243.9 268.4,244.0 268.9,244.1 269.5,244.2 270.0,244.3 270.6,244.4 271.2,244.4 271.7,244.5 272.3,244.6 272.8,244.7 273.4,244.8 273.9,244.8 274.5,244.9 275.1,245.0 275.6,245.1 276.2,245.2 276.7,245.2 277.3,245.3 277.8,245.4 278.4,245.5 279.0,245.6 279.5,245.6 280.1,245.7 280.6,245.8 281.2,245.9 281.7,245.9 282.3,246.0 282.9,246.1 283.4,246.2 284.0,246.2 284.5,246.3 285.1,246.4 285.7,246.5 286.2,246.5 286.8,246.6 287.3,246.7 287.9,246.7 288.4,246.8 289.0,246.9 289.6,247.0 290.1,247.0 290.7,247.1 291.2,247.2 291.8,247.2 292.3,247.3 292.9,247.4 293.5,247.4 294.0,247.5 294.6,247.6 295.1,247.6 295.7,247.7 296.2,247.8 296.8,247.8 297.4,247.9 297.9,248.0 298.5,248.0 299.0,248.1 299.6,248.2 300.2,248.2 300.7,248.3 301.3,248.4 301.8,248.4 302.4,248.5 302.9,248.6 303.5,248.6 304.1,248.7 304.6,248.7 305.2,248.8 305.7,248.9 306.3,248.9 306.8,249.0 307.4,249.0 308.0,249.1 308.5,249.2 309.1,249.2 309.6,249.3 310.2,249.3 310.7,249.4 311.3,249.5 311.9,249.5 312.4,249.6 313.0,249.6 313.5,249.7 314.1,249.8 314.7,249.8 315.2,249.9 315.8,249.9 316.3,250.0 316.9,250.0 317.4,250.1 318.0,250.2" fill="none" stroke="#1414e6" stroke-width="1.4" stroke-linejoin="round"/>
<line x1="524.50" y1="43.20" x2="524.50" y2="277.10" stroke="#000" stroke-width="2"/>
<line x1="523.50" y1="276.10" x2="757.10" y2="276.10" stroke="#000" stroke-width="2"/>
<line x1="515.00" y1="276.10" x2="524.50" y2="276.10" stroke="#000" stroke-width="2"/>
<text x="512.00" y="282.10" font-size="19" text-anchor="end" font-weight="normal" >0.000</text>
<line x1="515.00" y1="218.12" x2="524.50" y2="218.12" stroke="#000" stroke-width="2"/>
<text x="512.00" y="224.12" font-size="19" text-anchor="end" font-weight="normal" >0.005</text>
<line x1="515.00" y1="160.15" x2="524.50" y2="160.15" stroke="#000" stroke-width="2"/>
<text x="512.00" y="166.15" font-size="19" text-anchor="end" font-weight="normal" >0.010</text>
<line x1="515.00" y1="102.17" x2="524.50" y2="102.17" stroke="#000" stroke-width="2"/>
<text x="512.00" y="108.17" font-size="19" text-anchor="end" font-weight="normal" >0.015</text>
<line x1="515.00" y1="44.20" x2="524.50" y2="44.20" stroke="#000" stroke-width="2"/>
<text x="512.00" y="50.20" font-size="19" text-anchor="end" font-weight="normal" >0.020</text>
<line x1="524.50" y1="276.10" x2="524.50" y2="286.10" stroke="#000" stroke-width="2"/>
<text x="524.50" y="306.00" font-size="19" text-anchor="middle" font-weight="normal" >0</text>
<line x1="582.40" y1="276.10" x2="582.40" y2="286.10" stroke="#000" stroke-width="2"/>
<text x="582.40" y="306.00" font-size="19" text-anchor="middle" font-weight="normal" >10</text>
<line x1="640.30" y1="276.10" x2="640.30" y2="286.10" stroke="#000" stroke-width="2"/>
<text x="640.30" y="306.00" font-size="19" text-anchor="middle" font-weight="normal" >20</text>
<line x1="698.20" y1="276.10" x2="698.20" y2="286.10" stroke="#000" stroke-width="2"/>
<text x="698.20" y="306.00" font-size="19" text-anchor="middle" font-weight="normal" >30</text>
<line x1="756.10" y1="276.10" x2="756.10" y2="286.10" stroke="#000" stroke-width="2"/>
<text x="756.10" y="306.00" font-size="19" text-anchor="middle" font-weight="normal" >40</text>
<line x1="536.08" y1="247.61" x2="536.08" y2="266.39" stroke="rgba(250,15,20,0.9)" stroke-width="1.3"/>
<line x1="531.08" y1="247.61" x2="541.08" y2="247.61" stroke="rgba(250,15,20,0.9)" stroke-width="1.6"/>
<line x1="531.08" y1="266.39" x2="541.08" y2="266.39" stroke="rgba(250,15,20,0.9)" stroke-width="1.6"/>
<line x1="547.66" y1="128.10" x2="547.66" y2="167.29" stroke="rgba(250,15,20,0.9)" stroke-width="1.3"/>
<line x1="542.66" y1="128.10" x2="552.66" y2="128.10" stroke="rgba(250,15,20,0.9)" stroke-width="1.6"/>
<line x1="542.66" y1="167.29" x2="552.66" y2="167.29" stroke="rgba(250,15,20,0.9)" stroke-width="1.6"/>
<line x1="570.82" y1="125.94" x2="570.82" y2="217.08" stroke="rgba(250,15,20,0.9)" stroke-width="1.3"/>
<line x1="565.82" y1="125.94" x2="575.82" y2="125.94" stroke="rgba(250,15,20,0.9)" stroke-width="1.6"/>
<line x1="565.82" y1="217.08" x2="575.82" y2="217.08" stroke="rgba(250,15,20,0.9)" stroke-width="1.6"/>
<line x1="593.98" y1="130.46" x2="593.98" y2="158.75" stroke="rgba(250,15,20,0.9)" stroke-width="1.3"/>
<line x1="588.98" y1="130.46" x2="598.98" y2="130.46" stroke="rgba(250,15,20,0.9)" stroke-width="1.6"/>
<line x1="588.98" y1="158.75" x2="598.98" y2="158.75" stroke="rgba(250,15,20,0.9)" stroke-width="1.6"/>
<line x1="640.30" y1="122.94" x2="640.30" y2="149.84" stroke="rgba(250,15,20,0.9)" stroke-width="1.3"/>
<line x1="635.30" y1="122.94" x2="645.30" y2="122.94" stroke="rgba(250,15,20,0.9)" stroke-width="1.6"/>
<line x1="635.30" y1="149.84" x2="645.30" y2="149.84" stroke="rgba(250,15,20,0.9)" stroke-width="1.6"/>
<line x1="663.46" y1="150.99" x2="663.46" y2="211.75" stroke="rgba(250,15,20,0.9)" stroke-width="1.3"/>
<line x1="658.46" y1="150.99" x2="668.46" y2="150.99" stroke="rgba(250,15,20,0.9)" stroke-width="1.6"/>
<line x1="658.46" y1="211.75" x2="668.46" y2="211.75" stroke="rgba(250,15,20,0.9)" stroke-width="1.6"/>
<line x1="686.62" y1="153.56" x2="686.62" y2="164.23" stroke="rgba(250,15,20,0.9)" stroke-width="1.3"/>
<line x1="681.62" y1="153.56" x2="691.62" y2="153.56" stroke="rgba(250,15,20,0.9)" stroke-width="1.6"/>
<line x1="681.62" y1="164.23" x2="691.62" y2="164.23" stroke="rgba(250,15,20,0.9)" stroke-width="1.6"/>
<circle cx="530.29" cy="264.25" r="4.8" fill="rgba(250,10,15,0.85)"/>
<circle cx="536.08" cy="257.00" r="4.8" fill="rgba(250,10,15,0.85)"/>
<circle cx="547.66" cy="147.70" r="4.8" fill="rgba(250,10,15,0.85)"/>
<circle cx="570.82" cy="171.51" r="4.8" fill="rgba(250,10,15,0.85)"/>
<circle cx="593.98" cy="144.60" r="4.8" fill="rgba(250,10,15,0.85)"/>
<circle cx="617.14" cy="118.79" r="4.8" fill="rgba(250,10,15,0.85)"/>
<circle cx="640.30" cy="136.39" r="4.8" fill="rgba(250,10,15,0.85)"/>
<circle cx="663.46" cy="181.37" r="4.8" fill="rgba(250,10,15,0.85)"/>
<circle cx="686.62" cy="158.90" r="4.8" fill="rgba(250,10,15,0.85)"/>
<circle cx="698.20" cy="147.40" r="4.8" fill="rgba(250,10,15,0.85)"/>
<line x1="536.08" y1="195.56" x2="536.08" y2="228.03" stroke="rgba(15,15,240,0.88)" stroke-width="1.3"/>
<line x1="531.08" y1="195.56" x2="541.08" y2="195.56" stroke="rgba(15,15,240,0.88)" stroke-width="1.6"/>
<line x1="531.08" y1="228.03" x2="541.08" y2="228.03" stroke="rgba(15,15,240,0.88)" stroke-width="1.6"/>
<line x1="547.66" y1="178.53" x2="547.66" y2="195.46" stroke="rgba(15,15,240,0.88)" stroke-width="1.3"/>
<line x1="542.66" y1="178.53" x2="552.66" y2="178.53" stroke="rgba(15,15,240,0.88)" stroke-width="1.6"/>
<line x1="542.66" y1="195.46" x2="552.66" y2="195.46" stroke="rgba(15,15,240,0.88)" stroke-width="1.6"/>
<line x1="570.82" y1="169.94" x2="570.82" y2="197.07" stroke="rgba(15,15,240,0.88)" stroke-width="1.3"/>
<line x1="565.82" y1="169.94" x2="575.82" y2="169.94" stroke="rgba(15,15,240,0.88)" stroke-width="1.6"/>
<line x1="565.82" y1="197.07" x2="575.82" y2="197.07" stroke="rgba(15,15,240,0.88)" stroke-width="1.6"/>
<line x1="593.98" y1="119.45" x2="593.98" y2="133.83" stroke="rgba(15,15,240,0.88)" stroke-width="1.3"/>
<line x1="588.98" y1="119.45" x2="598.98" y2="119.45" stroke="rgba(15,15,240,0.88)" stroke-width="1.6"/>
<line x1="588.98" y1="133.83" x2="598.98" y2="133.83" stroke="rgba(15,15,240,0.88)" stroke-width="1.6"/>
<line x1="640.30" y1="108.15" x2="640.30" y2="135.05" stroke="rgba(15,15,240,0.88)" stroke-width="1.3"/>
<line x1="635.30" y1="108.15" x2="645.30" y2="108.15" stroke="rgba(15,15,240,0.88)" stroke-width="1.6"/>
<line x1="635.30" y1="135.05" x2="645.30" y2="135.05" stroke="rgba(15,15,240,0.88)" stroke-width="1.6"/>
<line x1="663.46" y1="102.52" x2="663.46" y2="135.68" stroke="rgba(15,15,240,0.88)" stroke-width="1.3"/>
<line x1="658.46" y1="102.52" x2="668.46" y2="102.52" stroke="rgba(15,15,240,0.88)" stroke-width="1.6"/>
<line x1="658.46" y1="135.68" x2="668.46" y2="135.68" stroke="rgba(15,15,240,0.88)" stroke-width="1.6"/>
<line x1="686.62" y1="106.29" x2="686.62" y2="131.10" stroke="rgba(15,15,240,0.88)" stroke-width="1.3"/>
<line x1="681.62" y1="106.29" x2="691.62" y2="106.29" stroke="rgba(15,15,240,0.88)" stroke-width="1.6"/>
<line x1="681.62" y1="131.10" x2="691.62" y2="131.10" stroke="rgba(15,15,240,0.88)" stroke-width="1.6"/>
<line x1="698.20" y1="107.65" x2="698.20" y2="135.94" stroke="rgba(15,15,240,0.88)" stroke-width="1.3"/>
<line x1="693.20" y1="107.65" x2="703.20" y2="107.65" stroke="rgba(15,15,240,0.88)" stroke-width="1.6"/>
<line x1="693.20" y1="135.94" x2="703.20" y2="135.94" stroke="rgba(15,15,240,0.88)" stroke-width="1.6"/>
<rect x="525.39" y="271.20" width="9.8" height="9.8" fill="rgba(12,12,245,0.85)"/>
<rect x="531.18" y="206.89" width="9.8" height="9.8" fill="rgba(12,12,245,0.85)"/>
<rect x="542.76" y="182.09" width="9.8" height="9.8" fill="rgba(12,12,245,0.85)"/>
<rect x="565.92" y="178.60" width="9.8" height="9.8" fill="rgba(12,12,245,0.85)"/>
<rect x="589.08" y="121.74" width="9.8" height="9.8" fill="rgba(12,12,245,0.85)"/>
<rect x="612.24" y="113.89" width="9.8" height="9.8" fill="rgba(12,12,245,0.85)"/>
<rect x="635.40" y="116.70" width="9.8" height="9.8" fill="rgba(12,12,245,0.85)"/>
<rect x="658.56" y="114.20" width="9.8" height="9.8" fill="rgba(12,12,245,0.85)"/>
<rect x="681.72" y="113.80" width="9.8" height="9.8" fill="rgba(12,12,245,0.85)"/>
<rect x="693.30" y="116.89" width="9.8" height="9.8" fill="rgba(12,12,245,0.85)"/>
<polyline points="524.5,276.1 525.3,271.2 526.0,266.7 526.8,262.3 527.6,258.2 528.4,254.4 529.1,250.7 529.9,247.2 530.7,243.9 531.5,240.7 532.2,237.7 533.0,234.8 533.8,232.0 534.6,229.4 535.3,226.9 536.1,224.4 536.9,222.1 537.7,219.9 538.4,217.7 539.2,215.7 540.0,213.7 540.8,211.8 541.5,210.0 542.3,208.2 543.1,206.5 543.9,204.8 544.6,203.2 545.4,201.7 546.2,200.2 547.0,198.8 547.7,197.4 548.5,196.0 549.3,194.7 550.1,193.5 550.8,192.2 551.6,191.0 552.4,189.9 553.2,188.8 553.9,187.7 554.7,186.6 555.5,185.6 556.3,184.6 557.0,183.6 557.8,182.7 558.6,181.7 559.4,180.8 560.1,180.0 560.9,179.1 561.7,178.3 562.5,177.5 563.2,176.7 564.0,175.9 564.8,175.2 565.6,174.4 566.3,173.7 567.1,173.0 567.9,172.3 568.7,171.7 569.4,171.0 570.2,170.4 571.0,169.7 571.7,169.1 572.5,168.5 573.3,167.9 574.1,167.4 574.8,166.8 575.6,166.3 576.4,165.7 577.2,165.2 577.9,164.7 578.7,164.2 579.5,163.7 580.3,163.2 581.0,162.7 581.8,162.3 582.6,161.8 583.4,161.4 584.1,160.9 584.9,160.5 585.7,160.1 586.5,159.7 587.2,159.3 588.0,158.9 588.8,158.5 589.6,158.1 590.3,157.7 591.1,157.3 591.9,157.0 592.7,156.6 593.4,156.3 594.2,155.9 595.0,155.6 595.8,155.3 596.5,154.9 597.3,154.6 598.1,154.3 598.9,154.0 599.6,153.7 600.4,153.4 601.2,153.1 602.0,152.8 602.7,152.5 603.5,152.2 604.3,151.9 605.1,151.7 605.8,151.4 606.6,151.1 607.4,150.9 608.2,150.6 608.9,150.4 609.7,150.1 610.5,149.9 611.3,149.6 612.0,149.4 612.8,149.2 613.6,148.9 614.4,148.7 615.1,148.5 615.9,148.3 616.7,148.0 617.4,147.8 618.2,147.6 619.0,147.4 619.8,147.2 620.5,147.0 621.3,146.8 622.1,146.6 622.9,146.4 623.6,146.2 624.4,146.0 625.2,145.9 626.0,145.7 626.7,145.5 627.5,145.3 628.3,145.1 629.1,145.0 629.8,144.8 630.6,144.6 631.4,144.5 632.2,144.3 632.9,144.1 633.7,144.0 634.5,143.8 635.3,143.7 636.0,143.5 636.8,143.4 637.6,143.2 638.4,143.1 639.1,142.9 639.9,142.8 640.7,142.6 641.5,142.5 642.2,142.4 643.0,142.2 643.8,142.1 644.6,142.0 645.3,141.8 646.1,141.7 646.9,141.6 647.7,141.5 648.4,141.3 649.2,141.2 650.0,141.1 650.8,141.0 651.5,140.8 652.3,140.7 653.1,140.6 653.9,140.5 654.6,140.4 655.4,140.3 656.2,140.2 657.0,140.1 657.7,140.0 658.5,139.8 659.3,139.7 660.1,139.6 660.8,139.5 661.6,139.4 662.4,139.3 663.2,139.2 663.9,139.1 664.7,139.0 665.5,138.9 666.2,138.9 667.0,138.8 667.8,138.7 668.6,138.6 669.3,138.5 670.1,138.4 670.9,138.3 671.7,138.2 672.4,138.1 673.2,138.1 674.0,138.0 674.8,137.9 675.5,137.8 676.3,137.7 677.1,137.6 677.9,137.6 678.6,137.5 679.4,137.4 680.2,137.3 681.0,137.3 681.7,137.2 682.5,137.1 683.3,137.0 684.1,137.0 684.8,136.9 685.6,136.8 686.4,136.8 687.2,136.7 687.9,136.6 688.7,136.6 689.5,136.5 690.3,136.4 691.0,136.4 691.8,136.3 692.6,136.2 693.4,136.2 694.1,136.1 694.9,136.0 695.7,136.0 696.5,135.9 697.2,135.9 698.0,135.8 698.8,135.7 699.6,135.7 700.3,135.6 701.1,135.6 701.9,135.5 702.7,135.5 703.4,135.4 704.2,135.3 705.0,135.3 705.8,135.2 706.5,135.2 707.3,135.1 708.1,135.1 708.9,135.0 709.6,135.0 710.4,134.9 711.2,134.9 711.9,134.8 712.7,134.8 713.5,134.7 714.3,134.7 715.0,134.7 715.8,134.6 716.6,134.6 717.4,134.5 718.1,134.5 718.9,134.4 719.7,134.4 720.5,134.3 721.2,134.3 722.0,134.3 722.8,134.2 723.6,134.2 724.3,134.1 725.1,134.1 725.9,134.1 726.7,134.0 727.4,134.0 728.2,133.9 729.0,133.9 729.8,133.9 730.5,133.8 731.3,133.8 732.1,133.8 732.9,133.7 733.6,133.7 734.4,133.6 735.2,133.6 736.0,133.6 736.7,133.5 737.5,133.5 738.3,133.5 739.1,133.4 739.8,133.4 740.6,133.4 741.4,133.4 742.2,133.3 742.9,133.3 743.7,133.3 744.5,133.2 745.3,133.2 746.0,133.2 746.8,133.1 747.6,133.1 748.4,133.1 749.1,133.1 749.9,133.0 750.7,133.0 751.5,133.0 752.2,132.9 753.0,132.9 753.8,132.9 754.6,132.9 755.3,132.8 756.1,132.8" fill="none" stroke="#f01818" stroke-width="1.25" stroke-linejoin="round"/>
<polyline points="524.5,276.1 525.3,272.3 526.0,268.7 526.8,265.1 527.6,261.7 528.4,258.3 529.1,255.1 529.9,251.9 530.7,248.8 531.5,245.8 532.2,242.9 533.0,240.1 533.8,237.4 534.6,234.7 535.3,232.1 536.1,229.6 536.9,227.1 537.7,224.7 538.4,222.4 539.2,220.1 540.0,217.8 540.8,215.7 541.5,213.6 542.3,211.5 543.1,209.5 543.9,207.5 544.6,205.6 545.4,203.7 546.2,201.9 547.0,200.1 547.7,198.4 548.5,196.7 549.3,195.0 550.1,193.4 550.8,191.8 551.6,190.2 552.4,188.7 553.2,187.2 553.9,185.8 554.7,184.4 555.5,183.0 556.3,181.6 557.0,180.3 557.8,179.0 558.6,177.7 559.4,176.5 560.1,175.2 560.9,174.0 561.7,172.9 562.5,171.7 563.2,170.6 564.0,169.5 564.8,168.4 565.6,167.4 566.3,166.4 567.1,165.3 567.9,164.3 568.7,163.4 569.4,162.4 570.2,161.5 571.0,160.6 571.7,159.7 572.5,158.8 573.3,157.9 574.1,157.1 574.8,156.3 575.6,155.5 576.4,154.7 577.2,153.9 577.9,153.1 578.7,152.4 579.5,151.6 580.3,150.9 581.0,150.2 581.8,149.5 582.6,148.8 583.4,148.1 584.1,147.5 584.9,146.8 585.7,146.2 586.5,145.6 587.2,145.0 588.0,144.4 588.8,143.8 589.6,143.2 590.3,142.6 591.1,142.1 591.9,141.5 592.7,141.0 593.4,140.5 594.2,140.0 595.0,139.5 595.8,139.0 596.5,138.5 597.3,138.0 598.1,137.5 598.9,137.1 599.6,136.6 600.4,136.2 601.2,135.7 602.0,135.3 602.7,134.9 603.5,134.5 604.3,134.0 605.1,133.6 605.8,133.3 606.6,132.9 607.4,132.5 608.2,132.1 608.9,131.8 609.7,131.4 610.5,131.0 611.3,130.7 612.0,130.4 612.8,130.0 613.6,129.7 614.4,129.4 615.1,129.1 615.9,128.8 616.7,128.5 617.4,128.2 618.2,127.9 619.0,127.6 619.8,127.3 620.5,127.0 621.3,126.7 622.1,126.5 622.9,126.2 623.6,126.0 624.4,125.7 625.2,125.5 626.0,125.2 626.7,125.0 627.5,124.7 628.3,124.5 629.1,124.3 629.8,124.1 630.6,123.8 631.4,123.6 632.2,123.4 632.9,123.2 633.7,123.0 634.5,122.8 635.3,122.6 636.0,122.4 636.8,122.2 637.6,122.1 638.4,121.9 639.1,121.7 639.9,121.5 640.7,121.4 641.5,121.2 642.2,121.0 643.0,120.9 643.8,120.7 644.6,120.6 645.3,120.4 646.1,120.3 646.9,120.1 647.7,120.0 648.4,119.9 649.2,119.7 650.0,119.6 650.8,119.5 651.5,119.3 652.3,119.2 653.1,119.1 653.9,119.0 654.6,118.9 655.4,118.7 656.2,118.6 657.0,118.5 657.7,118.4 658.5,118.3 659.3,118.2 660.1,118.1 660.8,118.0 661.6,117.9 662.4,117.8 663.2,117.7 663.9,117.7 664.7,117.6 665.5,117.5 666.2,117.4 667.0,117.3 667.8,117.3 668.6,117.2 669.3,117.1 670.1,117.0 670.9,117.0 671.7,116.9 672.4,116.8 673.2,116.8 674.0,116.7 674.8,116.6 675.5,116.6 676.3,116.5 677.1,116.5 677.9,116.4 678.6,116.4 679.4,116.3 680.2,116.3 681.0,116.2 681.7,116.2 682.5,116.1 683.3,116.1 684.1,116.1 684.8,116.0 685.6,116.0 686.4,115.9 687.2,115.9 687.9,115.9 688.7,115.8 689.5,115.8 690.3,115.8 691.0,115.8 691.8,115.7 692.6,115.7 693.4,115.7 694.1,115.7 694.9,115.6 695.7,115.6 696.5,115.6 697.2,115.6 698.0,115.6 698.8,115.6 699.6,115.5 700.3,115.5 701.1,115.5 701.9,115.5 702.7,115.5 703.4,115.5 704.2,115.5 705.0,115.5 705.8,115.5 706.5,115.5 707.3,115.5 708.1,115.5 708.9,115.5 709.6,115.5 710.4,115.5 711.2,115.5 711.9,115.5 712.7,115.5 713.5,115.5 714.3,115.5 715.0,115.5 715.8,115.5 716.6,115.5 717.4,115.5 718.1,115.5 718.9,115.6 719.7,115.6 720.5,115.6 721.2,115.6 722.0,115.6 722.8,115.6 723.6,115.6 724.3,115.7 725.1,115.7 725.9,115.7 726.7,115.7 727.4,115.7 728.2,115.8 729.0,115.8 729.8,115.8 730.5,115.8 731.3,115.9 732.1,115.9 732.9,115.9 733.6,115.9 734.4,116.0 735.2,116.0 736.0,116.0 736.7,116.0 737.5,116.1 738.3,116.1 739.1,116.1 739.8,116.2 740.6,116.2 741.4,116.2 742.2,116.3 742.9,116.3 743.7,116.3 744.5,116.4 745.3,116.4 746.0,116.4 746.8,116.5 747.6,116.5 748.4,116.5 749.1,116.6 749.9,116.6 750.7,116.7 751.5,116.7 752.2,116.7 753.0,116.8 753.8,116.8 754.6,116.9 755.3,116.9 756.1,117.0" fill="none" stroke="#1414e6" stroke-width="1.4" stroke-linejoin="round"/>
<text x="24.50" y="16.60" font-size="22" text-anchor="start" font-weight="bold" >a</text>
<text x="468.80" y="16.60" font-size="22" text-anchor="start" font-weight="bold" >b</text>
<text x="629.00" y="44.70" font-size="19" text-anchor="start" font-weight="normal" >Inset of a</text>
<text x="202.70" y="333.60" font-size="19.35" text-anchor="middle" font-weight="normal" >[Substrate] (µM)</text>
<text x="640.70" y="333.60" font-size="19.35" text-anchor="middle" font-weight="normal" >[Substrate] (µM)</text>
<text transform="translate(14.9,159.5) rotate(-90)" font-size="19.2" text-anchor="middle">Activity (nmol/min)</text>
<text transform="translate(452.9,159.5) rotate(-90)" font-size="19.2" text-anchor="middle">Activity (nmol/min)</text>
<rect x="288" y="55.2" width="112.2" height="64.5" fill="#fff" stroke="#111" stroke-width="1.9"/>
<line x1="308.30" y1="73.20" x2="333.00" y2="73.20" stroke="#ff1f1f" stroke-width="1.5"/>
<circle cx="321" cy="73.2" r="4.6" fill="rgba(250,10,15,0.85)"/>
<line x1="308.30" y1="102.60" x2="333.00" y2="102.60" stroke="#1f1fff" stroke-width="1.5"/>
<rect x="316" y="97.7" width="9.8" height="9.8" fill="rgba(12,12,245,0.85)"/>
<text x="347.00" y="78.80" font-size="19" text-anchor="start" font-weight="normal" >ATP</text>
<text x="347.00" y="108.30" font-size="19" text-anchor="start" font-weight="normal" >ADP</text>
</svg></body></html>
